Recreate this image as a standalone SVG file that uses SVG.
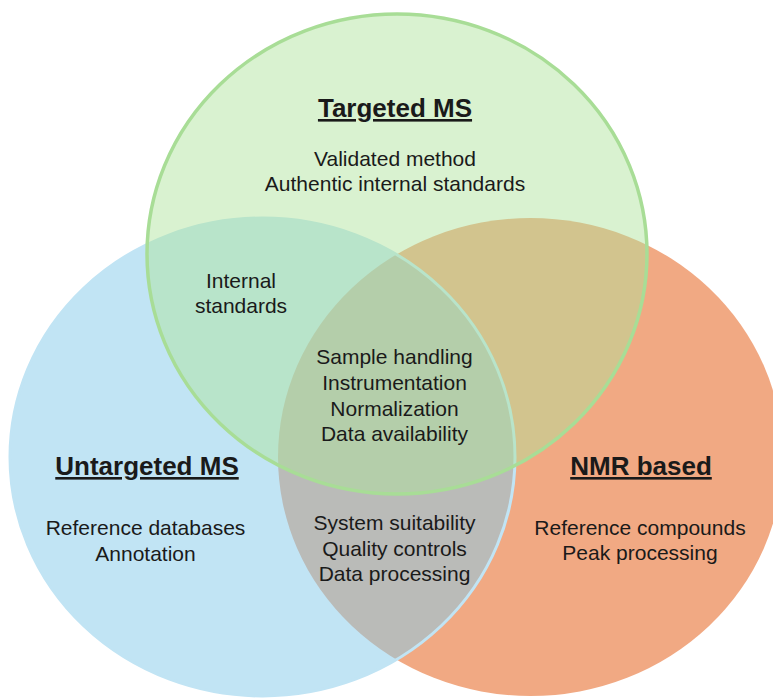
<svg xmlns="http://www.w3.org/2000/svg" width="773" height="698" viewBox="0 0 773 698">
<style>
text{font-family:"Liberation Sans",Arial,sans-serif;fill:#1a1a1a;text-anchor:middle}
.t{font-size:21px}
.h{font-size:26px;font-weight:bold;text-decoration:underline}
</style>
<rect width="773" height="698" fill="#ffffff"/>
<g id="nmr-based">
<ellipse cx="530.5" cy="457" rx="252.5" ry="239" fill="#f1a983"/>
</g>
<g id="untargeted-ms">
<ellipse cx="262.5" cy="457" rx="252.5" ry="239" fill="#88cbea" fill-opacity="0.52" stroke="#c1e4f4" stroke-width="3"/>
</g>
<g id="targeted-ms">
<ellipse cx="397" cy="254" rx="250" ry="240" fill="#aee39b" fill-opacity="0.47" stroke="#a8dd96" stroke-width="3.5"/>
</g>
<g id="labels">
<g id="label-targeted">
<text class="h" x="395" y="117">Targeted MS</text>
<text class="t" x="395" y="166">Validated method</text>
<text class="t" x="395" y="191">Authentic internal standards</text>
</g>
<g id="label-targeted-untargeted">
<text class="t" x="241" y="288">Internal</text>
<text class="t" x="241" y="313">standards</text>
</g>
<g id="label-all">
<text class="t" x="394.5" y="364">Sample handling</text>
<text class="t" x="394.5" y="390">Instrumentation</text>
<text class="t" x="394.5" y="416">Normalization</text>
<text class="t" x="394.5" y="441">Data availability</text>
</g>
<g id="label-untargeted-nmr">
<text class="t" x="394.5" y="530">System suitability</text>
<text class="t" x="394.5" y="556">Quality controls</text>
<text class="t" x="394.5" y="581">Data processing</text>
</g>
<g id="label-untargeted">
<text class="h" x="147" y="475">Untargeted MS</text>
<text class="t" x="145.5" y="535">Reference databases</text>
<text class="t" x="145.5" y="561">Annotation</text>
</g>
<g id="label-nmr">
<text class="h" x="641" y="475">NMR based</text>
<text class="t" x="640" y="535">Reference compounds</text>
<text class="t" x="640" y="560">Peak processing</text>
</g>
</g>
</svg>
